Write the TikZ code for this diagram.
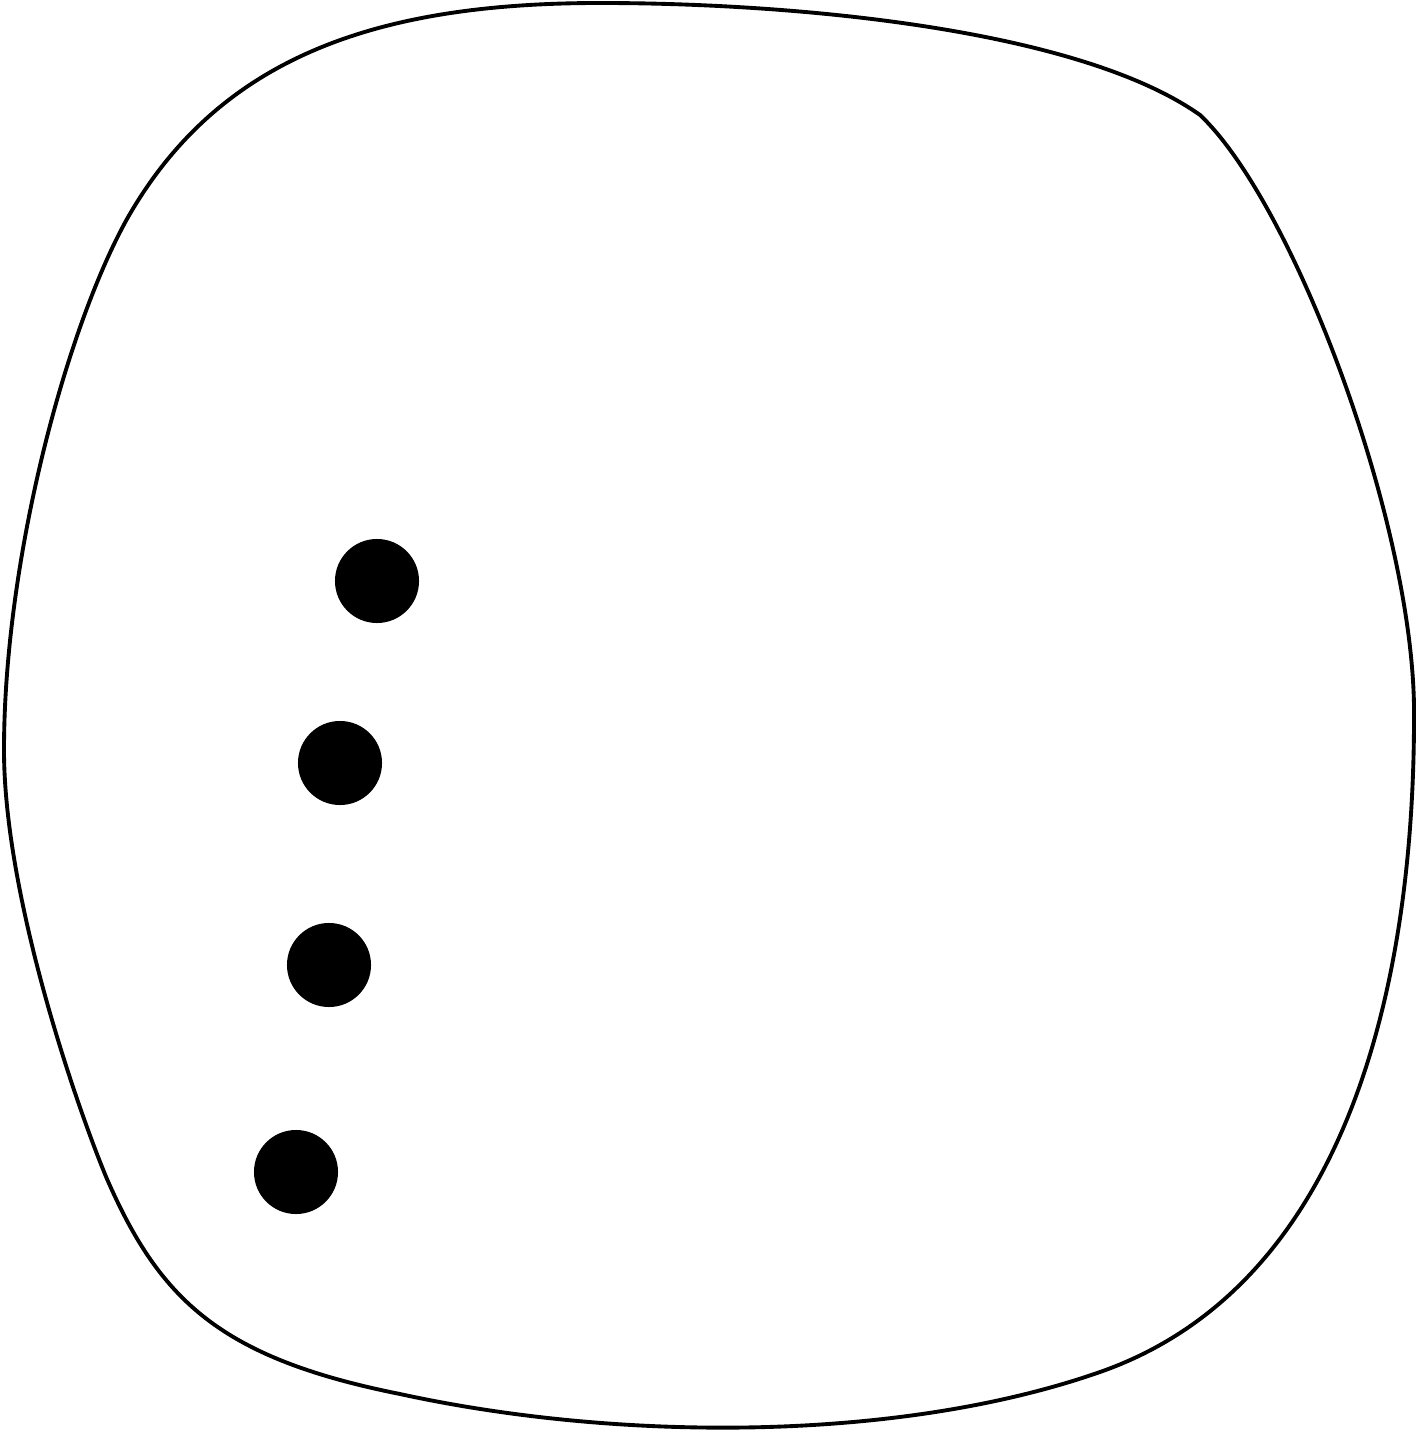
\documentclass[tikz,border=0pt]{standalone}
\usepackage{tikz}
\begin{document}
\begin{tikzpicture} [
    x=0.01cm, y=-0.01cm,
    dot/.style     = { circle, fill=black, inner sep=0pt, minimum size=0.84cm },
    outline/.style = { draw, line width=1.1pt },
  ]
  \useasboundingbox (0,0) rectangle (1418,1434);
  % anchor points of the outline
  \coordinate (top)   at (600,3);
  \coordinate (ne)    at (1200,115);
  \coordinate (east)  at (1414,717);
  \coordinate (se)    at (1100,1372);
  \coordinate (south) at (400,1394);
  \coordinate (sw)    at (107,1179);
  \coordinate (west)  at (4,750);
  \coordinate (nw)    at (127,219);
  % the closed outline
  \draw [outline] (top)
      .. controls (800,3)    and (1080,30)   .. (ne)
      .. controls (1295,205) and (1416,530)  .. (east)
      .. controls (1414,1000) and (1340,1288) .. (se)
      .. controls (900,1442) and (620,1442)  .. (south)
      .. controls (220,1358) and (160,1300)  .. (sw)
      .. controls (80,1115)  and (4,900)     .. (west)
      .. controls (4,560)    and (66,329)    .. (nw)
      .. controls (220,55)   and (380,3)     .. (top) -- cycle;
  % the four dots
  \node [dot] (d1) at (377,581)  {};
  \node [dot] (d2) at (340,763)  {};
  \node [dot] (d3) at (329,965)  {};
  \node [dot] (d4) at (296,1172) {};
\end{tikzpicture}
\end{document}
